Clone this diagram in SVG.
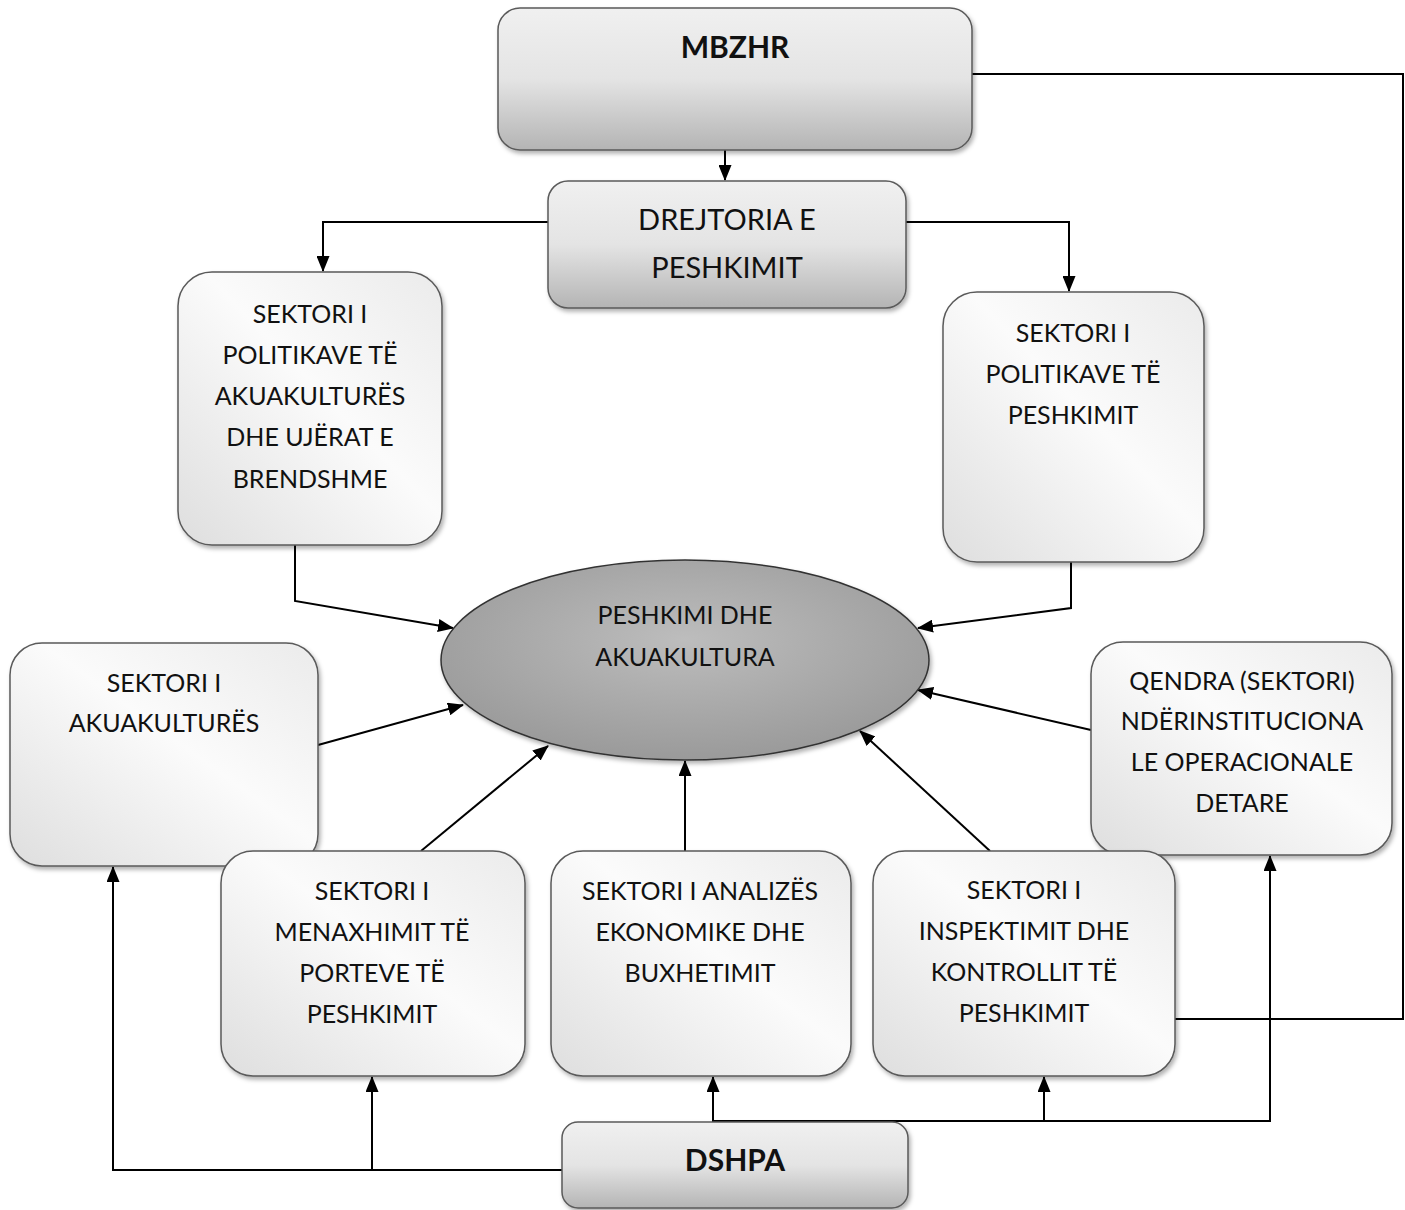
<svg xmlns="http://www.w3.org/2000/svg" width="1405" height="1210" viewBox="0 0 1405 1210">
<style>
.box{stroke:#5a5a5a;stroke-width:1.5}
.lt{fill:url(#gLight)}
.dk{fill:url(#gDark)}
.t{font-family:Lato,"Open Sans","Liberation Sans",sans-serif;font-size:25px;fill:#111;text-anchor:middle}
.tb{font-family:Lato,"Open Sans","Liberation Sans",sans-serif;font-size:30px;font-weight:bold;fill:#111;text-anchor:middle}
.tm{font-family:Lato,"Open Sans","Liberation Sans",sans-serif;font-size:29px;fill:#111;text-anchor:middle}
.c{fill:none;stroke:#000;stroke-width:2}
</style>
<defs>
<linearGradient id="gLight" x1="1" y1="0" x2="0" y2="1">
<stop offset="0" stop-color="#ebebeb"/>
<stop offset="0.45" stop-color="#fbfbfb"/>
<stop offset="1" stop-color="#dedede"/>
</linearGradient>
<linearGradient id="gDark" x1="0" y1="0" x2="0" y2="1">
<stop offset="0" stop-color="#f0f0f0"/>
<stop offset="0.5" stop-color="#e4e4e4"/>
<stop offset="1" stop-color="#b4b4b4"/>
</linearGradient>
<radialGradient id="gEll" cx="0.5" cy="0.4" r="0.6">
<stop offset="0" stop-color="#bdbdbd"/>
<stop offset="1" stop-color="#9a9a9a"/>
</radialGradient>
<filter id="sh" x="-10%" y="-10%" width="120%" height="125%">
<feDropShadow dx="2" dy="3" stdDeviation="2" flood-color="#000" flood-opacity="0.3"/>
</filter>
<marker id="ah" viewBox="0 0 16 13" refX="15" refY="6.5" markerWidth="16" markerHeight="13" markerUnits="userSpaceOnUse" orient="auto">
<path d="M0,0 L16,6.5 L0,13 Z" fill="#000"/>
</marker>
</defs>

<g id="connectors">
<path class="c" d="M725,150 V180" marker-end="url(#ah)"/>
<path class="c" d="M548,222 H323 V271" marker-end="url(#ah)"/>
<path class="c" d="M906,222 H1069 V291" marker-end="url(#ah)"/>
<path class="c" d="M295,545 V601 L453,628" marker-end="url(#ah)"/>
<path class="c" d="M1071,562 V608 L918,628" marker-end="url(#ah)"/>
<path class="c" d="M318,745 L463,705" marker-end="url(#ah)"/>
<path class="c" d="M1091,730 L918,690" marker-end="url(#ah)"/>
<path class="c" d="M421,851 L548,746" marker-end="url(#ah)"/>
<path class="c" d="M685,853 V761" marker-end="url(#ah)"/>
<path class="c" d="M990,851 L860,731" marker-end="url(#ah)"/>
<path class="c" d="M972,74 H1403 V1019 H1175"/>
<path class="c" d="M562,1170 H113 V867" marker-end="url(#ah)"/>
<path class="c" d="M372,1170 V1077" marker-end="url(#ah)"/>
<path class="c" d="M713,1122 V1077" marker-end="url(#ah)"/>
<path class="c" d="M713,1121 H1270 V856" marker-end="url(#ah)"/>
<path class="c" d="M1044,1121 V1077" marker-end="url(#ah)"/>
</g>

<g id="mbzhr">
<rect class="box dk" x="498" y="8" width="474" height="142" rx="22" filter="url(#sh)"/>
<text class="tb" x="735" y="58">MBZHR</text>
</g>

<g id="drejtoria">
<rect class="box dk" x="548" y="181" width="358" height="127" rx="20" filter="url(#sh)"/>
<text class="tm" x="727" y="230">DREJTORIA E</text>
<text class="tm" x="727" y="278">PESHKIMIT</text>
</g>

<g id="sektori-politikave-akuakultures">
<rect class="box lt" x="178" y="272" width="264" height="273" rx="34" filter="url(#sh)"/>
<text class="t" x="310" y="323">SEKTORI I</text>
<text class="t" x="310" y="364">POLITIKAVE TË</text>
<text class="t" x="310" y="405">AKUAKULTURËS</text>
<text class="t" x="310" y="446">DHE UJËRAT E</text>
<text class="t" x="310" y="488">BRENDSHME</text>
</g>

<g id="sektori-politikave-peshkimit">
<rect class="box lt" x="943" y="292" width="261" height="270" rx="34" filter="url(#sh)"/>
<text class="t" x="1073" y="342">SEKTORI I</text>
<text class="t" x="1073" y="383">POLITIKAVE TË</text>
<text class="t" x="1073" y="424">PESHKIMIT</text>
</g>

<g id="peshkimi">
<ellipse cx="685" cy="660" rx="244" ry="100" fill="url(#gEll)" stroke="#333" stroke-width="1.5" filter="url(#sh)"/>
<text class="t" x="685" y="624">PESHKIMI DHE</text>
<text class="t" x="685" y="666">AKUAKULTURA</text>
</g>

<g id="sektori-akuakultures">
<rect class="box lt" x="10" y="643" width="308" height="223" rx="32" filter="url(#sh)"/>
<text class="t" x="164" y="692">SEKTORI I</text>
<text class="t" x="164" y="732">AKUAKULTURËS</text>
</g>

<g id="qendra">
<rect class="box lt" x="1091" y="642" width="301" height="213" rx="32" filter="url(#sh)"/>
<text class="t" x="1242" y="690">QENDRA (SEKTORI)</text>
<text class="t" x="1242" y="730">NDËRINSTITUCIONA</text>
<text class="t" x="1242" y="771">LE OPERACIONALE</text>
<text class="t" x="1242" y="812">DETARE</text>
</g>

<g id="sektori-menaxhimit">
<rect class="box lt" x="221" y="851" width="304" height="225" rx="32" filter="url(#sh)"/>
<text class="t" x="372" y="900">SEKTORI I</text>
<text class="t" x="372" y="941">MENAXHIMIT TË</text>
<text class="t" x="372" y="982">PORTEVE TË</text>
<text class="t" x="372" y="1023">PESHKIMIT</text>
</g>

<g id="sektori-analizes">
<rect class="box lt" x="551" y="851" width="300" height="225" rx="32" filter="url(#sh)"/>
<text class="t" x="700" y="900">SEKTORI I ANALIZËS</text>
<text class="t" x="700" y="941">EKONOMIKE DHE</text>
<text class="t" x="700" y="982">BUXHETIMIT</text>
</g>

<g id="sektori-inspektimit">
<rect class="box lt" x="873" y="851" width="302" height="225" rx="32" filter="url(#sh)"/>
<text class="t" x="1024" y="899">SEKTORI I</text>
<text class="t" x="1024" y="940">INSPEKTIMIT DHE</text>
<text class="t" x="1024" y="981">KONTROLLIT TË</text>
<text class="t" x="1024" y="1022">PESHKIMIT</text>
</g>

<g id="dshpa">
<rect class="box dk" x="562" y="1122" width="346" height="86" rx="16" filter="url(#sh)"/>
<text class="tb" x="735" y="1171">DSHPA</text>
</g>
</svg>
